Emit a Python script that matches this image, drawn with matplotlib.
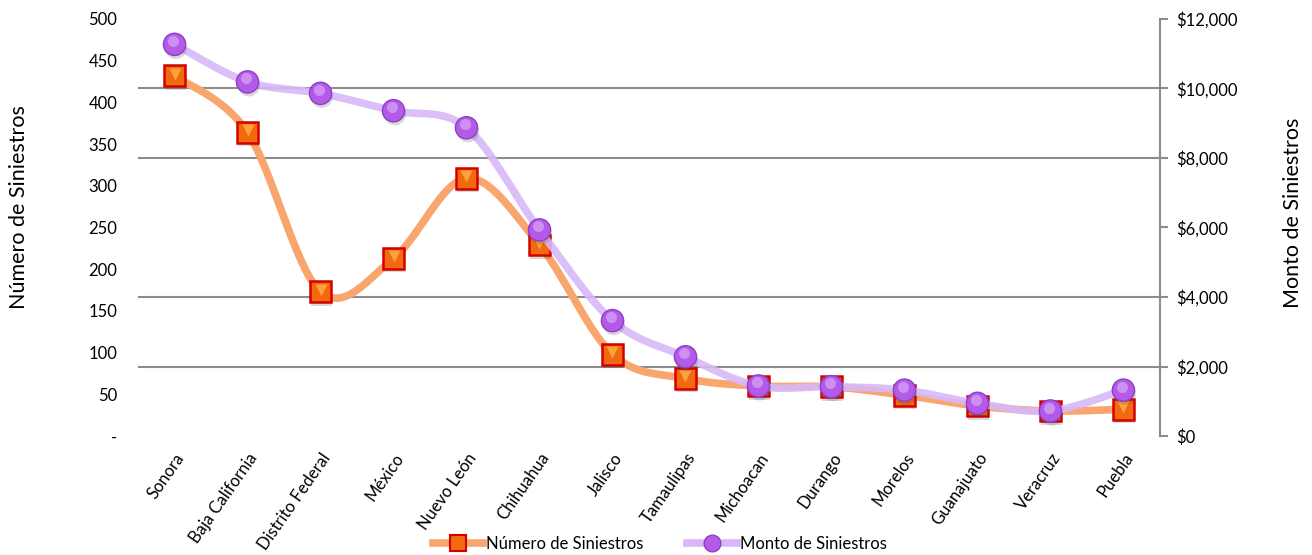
import numpy as np
import matplotlib.pyplot as plt
import matplotlib.patheffects as pe
from matplotlib.transforms import offset_copy
from matplotlib.ticker import FuncFormatter

plt.rcParams['font.family'] = ['Lato', 'DejaVu Sans']

estados = ['Sonora', 'Baja California', 'Distrito Federal', 'México', 'Nuevo León',
           'Chihuahua', 'Jalisco', 'Tamaulipas', 'Michoacan', 'Durango', 'Morelos',
           'Guanajuato', 'Veracruz', 'Puebla']
numero = [432, 364, 173, 213, 309, 229, 98, 69, 60, 59, 49, 36, 30, 32]
monto = [11270, 10190, 9860, 9360, 8870, 5930, 3320, 2280, 1440, 1420, 1320, 940, 720, 1320]

ORANGE_LINE = '#F9A56E'
PURPLE_LINE = '#D8B8F8'


def smooth(y, n=30):
    # curva tipo Catmull-Rom entre puntos consecutivos
    y = np.asarray(y, dtype=float)
    x = np.arange(len(y), dtype=float)
    px = np.concatenate([[x[0]], x, [x[-1]]])
    py = np.concatenate([[y[0]], y, [y[-1]]])
    xs, ys = [], []
    for i in range(1, len(px) - 2):
        p0, p1, p2, p3 = [np.array([px[j], py[j]]) for j in (i - 1, i, i + 1, i + 2)]
        c1 = p1 + (p2 - p0) / 6
        c2 = p2 - (p3 - p1) / 6
        t = np.linspace(0, 1, n)[:, None]
        b = (1 - t) ** 3 * p1 + 3 * (1 - t) ** 2 * t * c1 + 3 * (1 - t) * t ** 2 * c2 + t ** 3 * p2
        xs.append(b[:, 0])
        ys.append(b[:, 1])
    return np.concatenate(xs), np.concatenate(ys)


fig = plt.figure(figsize=(13.12, 5.55), dpi=100)
ax = fig.add_axes([0.1052, 0.2144, 0.7789, 0.7514])
ax2 = ax.twinx()

x = np.arange(len(estados))
sombra = [pe.SimplePatchShadow(offset=(1, -2.5), alpha=0.2, shadow_rgbFace='#444444'), pe.Normal()]

# Número de siniestros (eje izquierdo)
sx, sy = smooth(numero)
ax.plot(sx, sy, color=ORANGE_LINE, lw=5.5, solid_capstyle='round', zorder=3)
ax.plot(x, numero, ls='none', marker='s', ms=15, mfc='#F26A10', mec='#D40000', mew=1.8,
        path_effects=sombra, zorder=4)
ax.plot(x, numero, ls='none', marker='v', ms=9, mfc='#FBA23C', mec='none', zorder=5,
        transform=offset_copy(ax.transData, fig=fig, x=0, y=1.5, units='points'))

# Monto de siniestros (eje derecho)
mx, my = smooth(monto)
ax2.plot(mx, my, color=PURPLE_LINE, lw=5.5, alpha=0.9, solid_capstyle='round', zorder=3)
ax2.plot(x, monto, ls='none', marker='o', ms=16, mfc='#B35AE8', mec='#8E3FC4', mew=1.0,
         path_effects=sombra, zorder=4)
ax2.plot(x, monto, ls='none', marker='o', ms=8, mfc='#D9A6F7', mec='none', alpha=0.7,
         zorder=5, transform=offset_copy(ax2.transData, fig=fig, x=-1, y=2.5, units='points'))

ax.set_xlim(-0.5, len(estados) - 0.5)
ax.set_ylim(0, 500)
ax2.set_ylim(0, 12000)

ax.set_yticks(np.arange(0, 501, 50))
ax.yaxis.set_major_formatter(FuncFormatter(lambda v, p: '-' if v == 0 else f'{v:.0f}'))
ax.tick_params(axis='y', length=0, pad=15, labelsize=12)

# lineas de cuadricula alineadas con el eje derecho
ax.set_yticks(np.linspace(0, 500, 7), minor=True)
ax.tick_params(axis='y', which='minor', length=0)
ax.grid(axis='y', which='minor', color='#8C8C8C', lw=1.5, zorder=0)
ax.set_axisbelow(True)

ax2.set_yticks(np.arange(0, 12001, 2000))
ax2.yaxis.set_major_formatter(FuncFormatter(lambda v, p: f'${v:,.0f}'))
ax2.tick_params(axis='y', length=6, width=1.5, color='#8C8C8C', pad=6, labelsize=12)

ax.set_xticks(x)
ax.set_xticklabels(estados, rotation=55, ha='right', rotation_mode='anchor', fontsize=12)
ax.tick_params(axis='x', length=0, pad=10)

for a in (ax, ax2):
    for s in ('top', 'left', 'bottom'):
        a.spines[s].set_visible(False)
ax.spines['right'].set_visible(False)
ax2.spines['right'].set_color('#8C8C8C')
ax2.spines['right'].set_linewidth(1.5)

ax.set_ylabel('Número de Siniestros', fontsize=15.5)
ax.yaxis.set_label_coords(-0.107, 0.55)
ax2.set_ylabel('Monto de Siniestros', fontsize=15.5)
ax2.yaxis.set_label_coords(1.12, 0.535)

h1 = plt.Line2D([], [], color=ORANGE_LINE, lw=5.5, marker='s', ms=11, mfc='#F26A10',
                mec='#D40000', mew=1.5)
h2 = plt.Line2D([], [], color=PURPLE_LINE, lw=5.5, marker='o', ms=12, mfc='#B35AE8',
                mec='#8E3FC4', mew=1.0)
fig.legend([h1, h2], ['Número de Siniestros', 'Monto de Siniestros'], loc='center',
           bbox_to_anchor=(0.503, 0.02), ncol=2, frameon=False, fontsize=12,
           handlelength=3.0, columnspacing=2.6, handletextpad=0.2)

fig.savefig('out.png', dpi=100, facecolor='white')
